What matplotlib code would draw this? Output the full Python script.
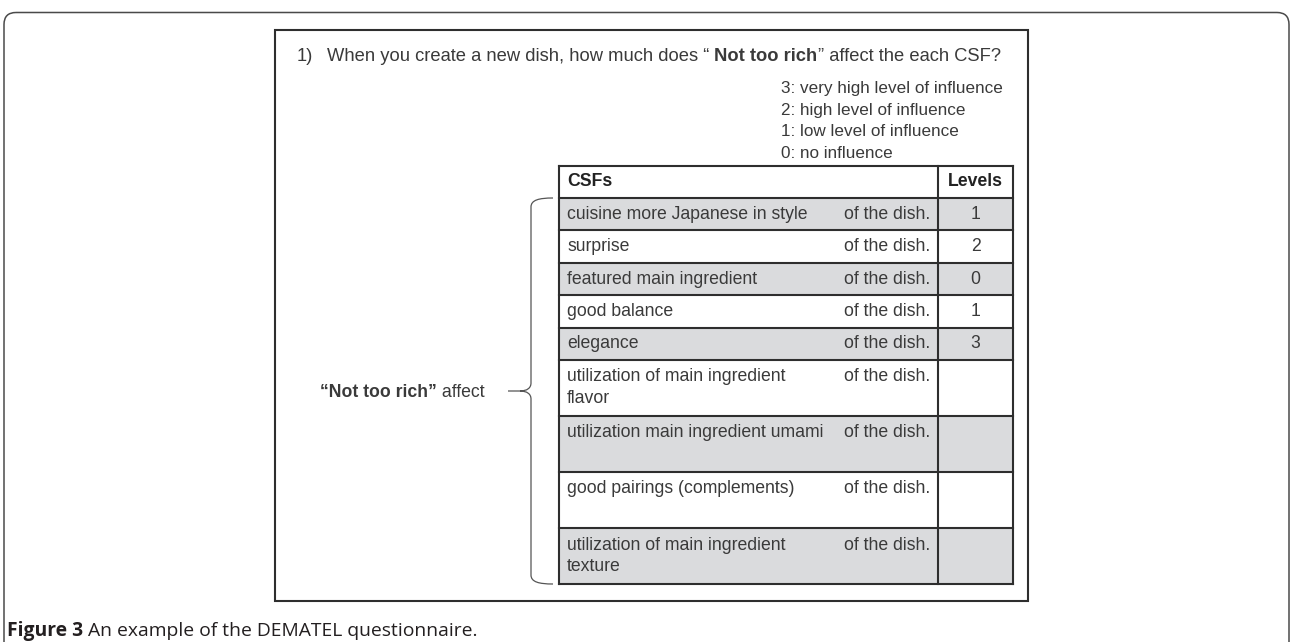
import matplotlib.pyplot as plt
from matplotlib.patches import Rectangle, FancyBboxPatch, PathPatch
from matplotlib.path import Path

# questionnaire content
question_parts = [("When you create a new dish, how much does \u201c ", "normal"),
                  ("Not too rich", "bold"),
                  ("\u201d affect the each CSF?", "normal")]
scale_lines = ["3: very high level of influence",
               "2: high level of influence",
               "1: low level of influence",
               "0: no influence"]
csf_items = ["cuisine more Japanese in style",
             "surprise",
             "featured main ingredient",
             "good balance",
             "elegance",
             "utilization of main ingredient\nflavor",
             "utilization main ingredient umami",
             "good pairings (complements)",
             "utilization of main ingredient\ntexture"]
levels = ["1", "2", "0", "1", "3", "", "", "", ""]
suffix = "of the dish."
factor = "Not too rich"
caption_bold = "Figure 3"
caption_rest = " An example of the DEMATEL questionnaire."

W, H = 1292, 642
fig = plt.figure(figsize=(W / 100, H / 100), dpi=100)
ax = fig.add_axes([0, 0, 1, 1])
ax.set_xlim(0, W)
ax.set_ylim(H, 0)
ax.axis("off")

FONT = "Liberation Sans"
TXT = "#3a3a3a"
DARK = "#222222"
GRAY = "#dadbdd"
LINE = "#2e2e2e"
renderer = fig.canvas.get_renderer()


def run_text(x, y, parts, size, color, family):
    # place text pieces one after another on a shared baseline
    for s, w in parts:
        t = ax.text(x, y, s, fontsize=size, fontweight=w, color=color,
                    family=family, va="baseline", ha="left")
        bb = t.get_window_extent(renderer)
        x += bb.width
    return x


# outer frame (open at the bottom)
ax.add_patch(FancyBboxPatch((4, 12.5), 1285, 720,
                            boxstyle="round,pad=0,rounding_size=12",
                            fill=False, ec="#4a4a4a", lw=1.1))
# inner box
ax.add_patch(Rectangle((275, 30), 753, 571, fill=False, ec=LINE, lw=1.5))

# question
fs = 12.7
ax.text(297, 61, "1)", fontsize=13.2, color=TXT, family=FONT, va="baseline")
run_text(327, 61, question_parts, 13.2, TXT, FONT)

# influence scale
for i, s in enumerate(scale_lines):
    ax.text(781, 93 + i * 21.5, s, fontsize=12.3, color=TXT, family=FONT,
            va="baseline")

# table
tx0, tx1, tx2 = 559, 938, 1013
top = 166
head_h = 32
row_h = [32.4] * 5 + [56] * 4

ax.text(567, top + head_h / 2, "CSFs", fontsize=fs, fontweight="bold",
        color=DARK, family=FONT, va="center")
ax.text((tx1 + tx2) / 2, top + head_h / 2, "Levels", fontsize=fs,
        fontweight="bold", color=DARK, family=FONT, va="center", ha="center")

y = top + head_h
for i, (item, lv) in enumerate(zip(csf_items, levels)):
    h = row_h[i]
    fc = GRAY if i % 2 == 0 else "white"
    ax.add_patch(Rectangle((tx0, y), tx2 - tx0, h, fc=fc, ec="none", zorder=0))
    ty = y + h / 2 if h < 40 else y + 17
    va = "center"
    if h < 40:
        ax.text(567, ty, item, fontsize=fs, color=TXT, family=FONT, va=va)
    else:
        for j, ln in enumerate(item.split("\n")):
            ax.text(567, ty + j * 21.5, ln, fontsize=fs, color=TXT,
                    family=FONT, va=va)
    ax.text(930, ty, suffix, fontsize=fs, color=TXT, family=FONT, va=va,
            ha="right")
    ax.text((tx1 + tx2) / 2, ty, lv, fontsize=fs, color=TXT, family=FONT,
            va=va, ha="center")
    y += h
bottom = y

# grid lines
ax.plot([tx0, tx2], [top, top], color=LINE, lw=1.5)
yy = top + head_h
ax.plot([tx0, tx2], [yy, yy], color=LINE, lw=1.5)
for h in row_h:
    yy += h
    ax.plot([tx0, tx2], [yy, yy], color=LINE, lw=1.5)
for xv in (tx0, tx1, tx2):
    ax.plot([xv, xv], [top, bottom], color=LINE, lw=1.5)

# curly brace
b0, b1 = top + head_h, bottom
bm = (b0 + b1) / 2
bx, tip = 531, 508
verts = [(553, b0), (539, b0), (bx, b0 + 2), (bx, b0 + 9),
         (bx, bm - 8),
         (bx, bm - 3), (527, bm), (520, bm),
         (tip, bm),
         (520, bm),
         (527, bm), (bx, bm + 3), (bx, bm + 8),
         (bx, b1 - 9),
         (bx, b1 - 2), (539, b1), (553, b1)]
codes = [Path.MOVETO, Path.CURVE4, Path.CURVE4, Path.CURVE4,
         Path.LINETO,
         Path.CURVE4, Path.CURVE4, Path.CURVE4,
         Path.LINETO,
         Path.MOVETO,
         Path.CURVE4, Path.CURVE4, Path.CURVE4,
         Path.LINETO,
         Path.CURVE4, Path.CURVE4, Path.CURVE4]
ax.add_patch(PathPatch(Path(verts, codes), fill=False, ec="#555555", lw=0.9))

run_text(320, bm + 6, [("\u201c" + factor + "\u201d", "bold"), (" affect", "normal")],
         fs, TXT, FONT)

# caption
run_text(7, 636, [(caption_bold, "bold"), (caption_rest, "normal")],
         13.9, "#231f20", "Open Sans")

fig.savefig("out.png", dpi=100)
